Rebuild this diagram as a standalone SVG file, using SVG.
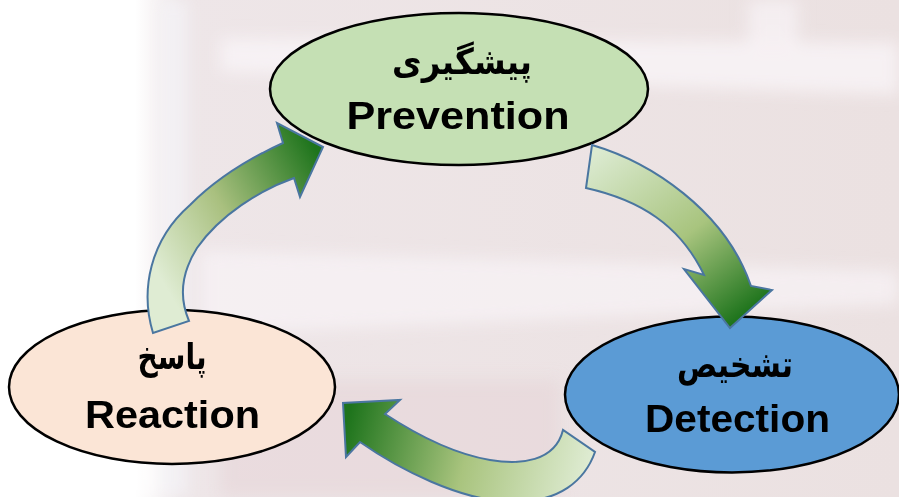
<svg xmlns="http://www.w3.org/2000/svg" width="899" height="497" viewBox="0 0 899 497">
  <style>
    .node ellipse { stroke: #000; stroke-width: 2.5; }
    .lat { font-family: "Liberation Sans", Arial, sans-serif; font-weight: bold; font-size: 39px; fill: #000; text-anchor: middle; }
    .fa { font-family: "DejaVu Sans", "Noto Sans", sans-serif; font-weight: bold; font-size: 36px; fill: #000; text-anchor: middle; }
    .arrow { stroke: #4a76a0; stroke-width: 2; stroke-linejoin: miter; }
  </style>
  <defs>
    <filter id="blur" x="-20%" y="-20%" width="140%" height="140%">
      <feGaussianBlur stdDeviation="8"/>
    </filter>
    <linearGradient id="bgLeft" x1="0" y1="0" x2="899" y2="0" gradientUnits="userSpaceOnUse">
      <stop offset="0" stop-color="#ffffff"/>
      <stop offset="0.15" stop-color="#ffffff"/>
      <stop offset="0.2" stop-color="#eee6e8"/>
      <stop offset="1" stop-color="#ebe1e1"/>
    </linearGradient>
    <linearGradient id="g1" x1="600" y1="150" x2="730" y2="325" gradientUnits="userSpaceOnUse">
      <stop offset="0" stop-color="#dbead0"/>
      <stop offset="0.55" stop-color="#a8c47e"/>
      <stop offset="1" stop-color="#1e741c"/>
    </linearGradient>
    <linearGradient id="g2" x1="150" y1="260" x2="322" y2="160" gradientUnits="userSpaceOnUse">
      <stop offset="0" stop-color="#dfecd3"/>
      <stop offset="0.45" stop-color="#a9c07f"/>
      <stop offset="1" stop-color="#1e741c"/>
    </linearGradient>
    <linearGradient id="g3" x1="350" y1="410" x2="590" y2="470" gradientUnits="userSpaceOnUse">
      <stop offset="0" stop-color="#1e741c"/>
      <stop offset="0.5" stop-color="#a9c47e"/>
      <stop offset="1" stop-color="#dfecd3"/>
    </linearGradient>
  </defs>

  <!-- background scene -->
  <rect x="0" y="0" width="899" height="497" fill="url(#bgLeft)"/>
  <g filter="url(#blur)">
    <rect x="160" y="0" width="28" height="497" fill="#f4f2f6" opacity="0.8"/>
    <polygon points="220,38 899,42 899,95 220,72" fill="#faf6f8" opacity="0.75"/>
    <rect x="748" y="0" width="50" height="45" fill="#f8f4f6" opacity="0.7"/>
    <polygon points="200,250 899,270 899,305 200,335" fill="#f8f4f6" opacity="0.7"/>
    <rect x="220" y="380" width="340" height="117" fill="#e6d2d5" opacity="0.5"/>
    <rect x="0" y="430" width="160" height="67" fill="#ffffff" opacity="0.6"/>
  </g>

  <!-- nodes -->
  <g id="node-prevention" class="node">
    <ellipse cx="459" cy="89" rx="189" ry="76" fill="#c5e0b4"/>
    <text class="fa" x="462" y="74" textLength="140" lengthAdjust="spacingAndGlyphs">پیشگیری</text>
    <text class="lat" x="458" y="129" textLength="223" lengthAdjust="spacingAndGlyphs">Prevention</text>
  </g>
  <g id="node-detection" class="node">
    <ellipse cx="732" cy="394.5" rx="167" ry="78" fill="#5b9bd5"/>
    <text class="fa" x="735" y="377" textLength="116" lengthAdjust="spacingAndGlyphs">تشخیص</text>
    <text class="lat" x="737.5" y="432" textLength="185" lengthAdjust="spacingAndGlyphs">Detection</text>
  </g>
  <g id="node-reaction" class="node">
    <ellipse cx="172" cy="387" rx="163" ry="77" fill="#fbe5d6"/>
    <text class="fa" x="172" y="369" textLength="69" lengthAdjust="spacingAndGlyphs">پاسخ</text>
    <text class="lat" x="172.5" y="428" textLength="175" lengthAdjust="spacingAndGlyphs">Reaction</text>
  </g>

  <!-- connectors -->
  <g id="connectors">
    <path id="arrow-prevention-detection" class="arrow" fill="url(#g1)"
      d="M592,145 C650,162 725,210 751,286 L772,290 L730,328 L684,269 L704,275 C680,225 640,200 586,188 Z"/>
    <path id="arrow-reaction-prevention" class="arrow" fill="url(#g2)"
      d="M153,333 C140,290 150,240 190,205 C215,180 250,158 283,143 L277,123 L323,147 L300,197 L294,178 C260,190 220,215 197,248 C180,275 180,300 189,321 Z"/>
    <path id="arrow-detection-reaction" class="arrow" fill="url(#g3)"
      d="M563,430 C555,462 520,465 490,460 C455,454 420,437 385,414 L400,400 L343,403 L346,457 L360,442 C400,470 460,500 510,502 C560,503 585,480 595,452 Z"/>
  </g>
</svg>
